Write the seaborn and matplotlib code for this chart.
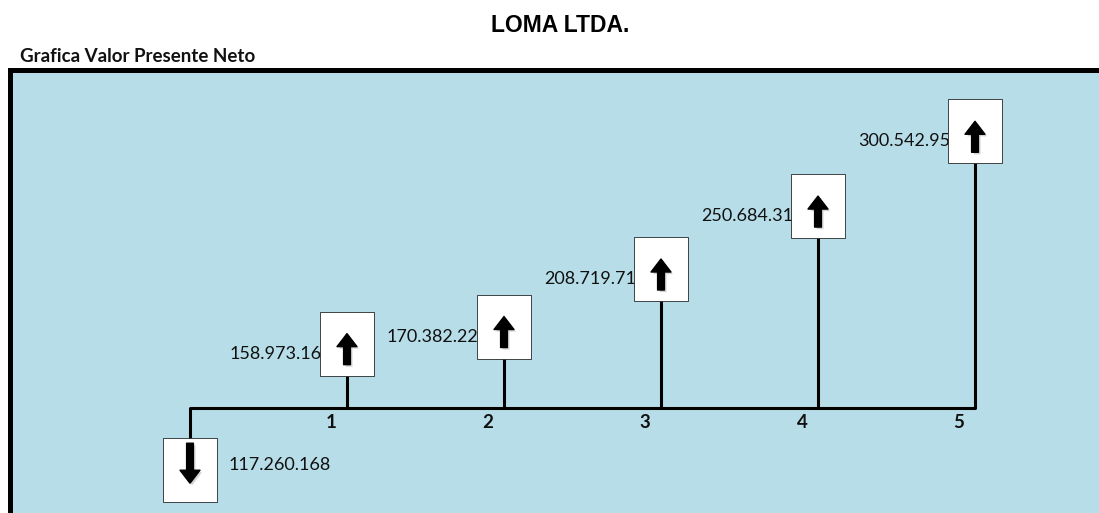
import matplotlib
matplotlib.use('Agg')
import matplotlib.pyplot as plt
import matplotlib.patheffects as pe
from matplotlib.patches import Rectangle
import seaborn as sns

# Datos del flujo de caja (pesos)
periodos = [0, 1, 2, 3, 4, 5]
flujos = [-117260168, 158973164, 170382225, 208719715, 250684318, 300542956]
etiquetas_periodo = ['1', '2', '3', '4', '5']

titulo = 'LOMA LTDA.'
subtitulo = 'Grafica Valor Presente Neto'

sns.set_theme(style='white')
plt.rcParams['font.family'] = ['Lato', 'DejaVu Sans']

W, H = 1099, 513
fig = plt.figure(figsize=(W / 100, H / 100), dpi=100)
ax = fig.add_axes([10 / W, 0, 1 - 10 / W, (H - 69.5) / H])

# escala: pixeles por unidad
px_x = 157.0
px_y = 1.5
base = 137.4  # nivel de la linea de tiempo (millones)
ax.set_xlim(-180 / px_x, -180 / px_x + 1089 / px_x)
ax.set_ylim(base - 105 / px_y, base - 105 / px_y + 443.5 / px_y)
ax.set_facecolor('#B7DEE8')
for s in ['right', 'bottom']:
    ax.spines[s].set_visible(False)
for s in ['top', 'left']:
    ax.spines[s].set_linewidth(3.6)
    ax.spines[s].set_color('black')
ax.set_xticks([])
ax.set_yticks([])

# linea de tiempo
sns.lineplot(x=periodos, y=[base] * len(periodos), color='black', linewidth=2.2,
             ax=ax, legend=False)

bw = 54 / px_x
bh = 64 / px_y
shadow = [pe.SimplePatchShadow(offset=(1.5, -1.5), shadow_rgbFace='gray', alpha=0.35), pe.Normal()]
arrow_style = 'simple,head_length=0.65,head_width=1.0,tail_width=0.34'

for p, f in zip(periodos, flujos):
    v = abs(f) / 1e6
    texto = f"{abs(f):,}".replace(',', '.')
    ax.vlines(p, base, v, color='black', linewidth=2.2, zorder=3)
    if f > 0:
        y0 = v
        ax.add_patch(Rectangle((p - bw / 2, y0), bw, bh, facecolor='white',
                               edgecolor='black', linewidth=0.5, zorder=4))
        ax.annotate('', xy=(p, y0 + 42 / px_y), xytext=(p, y0 + 11 / px_y),
                    arrowprops=dict(arrowstyle=arrow_style, color='black',
                                    mutation_scale=14.4, shrinkA=0, shrinkB=0,
                                    path_effects=shadow), zorder=5)
        ax.text(p - bw / 2 - 90 / px_x, y0 + bh - 42 / px_y, texto, fontsize=13,
                ha='left', va='center', color='#111111', zorder=3)
    else:
        y0 = v
        ax.add_patch(Rectangle((p - bw / 2, y0 - bh), bw, bh, facecolor='white',
                               edgecolor='black', linewidth=0.5, zorder=4))
        ax.annotate('', xy=(p, y0 - 45 / px_y), xytext=(p, y0 - 5 / px_y),
                    arrowprops=dict(arrowstyle=arrow_style, color='black',
                                    mutation_scale=14.4, shrinkA=0, shrinkB=0,
                                    path_effects=shadow), zorder=5)
        ax.text(p + bw / 2 + 12 / px_x, y0 - 27 / px_y, texto, fontsize=13,
                ha='left', va='center', color='#111111', zorder=3)

for p, lab in zip(periodos[1:], etiquetas_periodo):
    ax.text(p - 16 / px_x, base - 15 / px_y, lab, fontsize=13.5, fontweight='bold',
            ha='center', va='center', color='#111111')

fig.text(560 / W, 1 - 25 / H, titulo, fontsize=16.5, fontweight='bold',
         family=['Liberation Sans', 'DejaVu Sans'], ha='center', va='center',
         color='black')
fig.text(20 / W, 1 - 62 / H, subtitulo, fontsize=13.5, fontweight='bold',
         ha='left', va='baseline', color='#111111')

fig.savefig('out.png', dpi=100)
